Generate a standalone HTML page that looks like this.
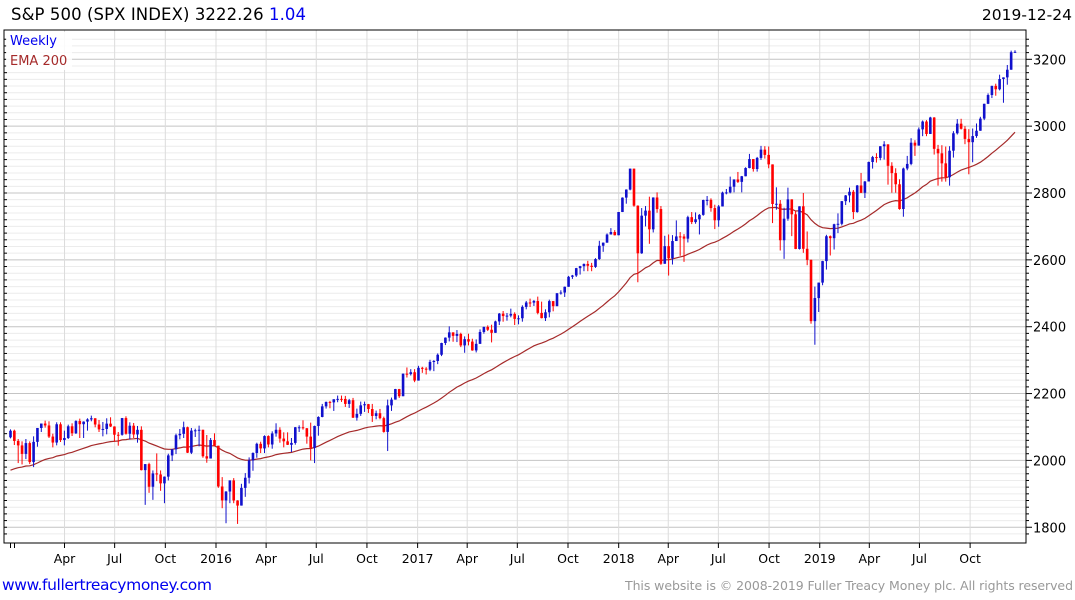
<!DOCTYPE html>
<html><head><meta charset="utf-8">
<style>
body{margin:0;background:#fff;width:1075px;height:600px;overflow:hidden;font-family:"DejaVu Sans",sans-serif}
svg{position:absolute;left:0;top:0}
</style></head><body>
<svg id="chart" width="1075" height="600" xmlns="http://www.w3.org/2000/svg" font-family="DejaVu Sans, sans-serif">
<g id="grid"></g>
<g id="ema"></g>
<g id="candles"></g>
<g id="axes"></g>
<text x="11" y="20" font-size="16.5" fill="#000" textLength="295">S&amp;P 500 (SPX INDEX) 3222.26 <tspan fill="#0000ee">1.04</tspan></text>
<text x="1072" y="20" font-size="15.5" text-anchor="end" fill="#000">2019-12-24</text>
<rect x="6" y="32" width="66" height="38" fill="#fff" opacity="0.85"/>
<text x="10" y="45" font-size="13" fill="#0000ee">Weekly</text>
<text x="10" y="65" font-size="13" fill="#a52a2a">EMA 200</text>
<text x="2" y="590" font-size="15.5" fill="#0000ee" textLength="210">www.fullertreacymoney.com</text>
<text x="625" y="590" font-size="12.5" fill="#999" textLength="448">This website is © 2008-2019 Fuller Treacy Money plc. All rights reserved</text>
</svg>
<script>
const closes=[2088.8,
2058.2,2044.8,2019.4,2051.8,1995.0,2055.5,2097.0,2110.3,2104.5,2071.3,2053.4,2108.1,2061.0,2067.0,2102.1,2081.2,2117.7,2108.3,2116.1,2122.7,2126.1,2107.4,2092.8,2094.1,2110.0,2101.5,2076.8,2076.6,2126.6,2079.7,2103.8,2077.6,2091.5,1970.9,1988.9,1921.2,1961.1,1958.0,1931.3,1951.4,2014.9,2033.1,2075.2,2079.4,2099.2,2023.0,2089.2,2090.1,2091.7,2012.4,2005.6,2061.0,2043.9,
1922.0,1880.3,1906.9,1940.2,1880.1,1864.8,1917.8,1948.1,2000.0,2022.2,2049.6,2035.9,2072.8,2047.6,2080.7,2091.6,2065.3,2057.1,2046.6,2052.3,2099.1,2099.1,2096.1,2071.2,2037.4,2103.0,2129.9,2161.7,2175.0,2173.6,2182.9,2184.1,2183.9,2169.0,2180.0,2127.8,2139.2,2164.7,2168.3,2153.7,2133.0,2141.2,2126.4,2085.2,2164.5,2181.9,2213.4,2192.0,2259.5,2258.1,2263.8,2238.8,
2277.0,2274.6,2271.3,2294.7,2297.4,2316.1,2351.2,2367.3,2383.1,2372.6,2378.3,2344.0,2362.7,2355.5,2329.0,2348.7,2384.2,2399.3,2390.9,2381.7,2415.8,2439.1,2431.8,2433.2,2438.3,2423.4,2425.2,2459.3,2472.5,2472.1,2476.8,2441.3,2425.6,2443.1,2476.6,2461.4,2500.2,2502.2,2519.4,2549.3,2553.2,2575.2,2581.1,2587.8,2582.3,2578.9,2602.4,2642.2,2651.5,2675.8,2683.3,2673.6,
2743.2,2786.2,2810.3,2872.9,2762.1,2619.6,2732.2,2747.3,2691.3,2786.6,2752.0,2588.3,2640.9,2604.5,2656.3,2670.1,2669.9,2663.4,2727.7,2713.0,2721.3,2734.6,2779.0,2779.4,2754.9,2718.4,2759.8,2801.3,2801.8,2818.8,2840.4,2833.3,2850.1,2874.7,2901.5,2871.7,2905.0,2929.7,2914.0,2885.6,2767.1,2767.8,2658.7,2723.1,2781.0,2736.3,2632.6,2760.2,2633.1,2600.0,2416.6,2485.7,
2531.9,2596.3,2670.7,2664.8,2706.5,2707.9,2775.6,2792.7,2803.7,2743.1,2822.5,2800.7,2834.4,2892.7,2907.4,2905.0,2939.9,2945.6,2881.4,2859.5,2826.1,2752.1,2873.3,2887.0,2950.5,2941.8,2990.4,3013.8,2976.6,3025.9,2932.1,2918.7,2888.7,2847.1,2926.5,2978.7,3007.4,2992.1,2961.8,2952.0,2970.3,2986.2,3022.6,3066.9,3093.1,3120.5,3110.3,3141.0,3145.9,3168.8,3221.2,3222.3];
const highs=[2093,
2092,2064,2057,2064,2057,2072,2097,2110,2119,2117,2080,2114,2114,2089,2107,2111,2120,2125,2117,2126,2134,2126,2121,2115,2126,2129,2102,2085,2127,2132,2114,2112,2103,2102,1989,1993,1970,2021,1970,1952,2020,2034,2080,2094,2116,2101,2097,2095,2104,2090,2076,2067,2081,
2039,1950,1908,1940,1947,1881,1930,1962,2009,2024,2053,2056,2075,2075,2087,2111,2099,2084,2084,2067,2100,2105,2120,2097,2113,2104,2132,2169,2176,2178,2183,2194,2194,2193,2184,2187,2155,2176,2176,2169,2169,2149,2154,2131,2182,2188,2214,2214,2260,2278,2273,2273,
2283,2280,2279,2301,2300,2320,2352,2368,2401,2382,2390,2382,2371,2379,2364,2362,2392,2400,2404,2406,2418,2441,2447,2441,2454,2443,2434,2464,2477,2484,2480,2490,2475,2452,2481,2475,2500,2509,2520,2552,2555,2576,2582,2589,2597,2591,2605,2657,2652,2679,2695,2689,
2743,2787,2811,2873,2871,2763,2755,2761,2789,2787,2802,2761,2672,2676,2674,2718,2683,2677,2732,2743,2742,2737,2780,2791,2784,2765,2764,2804,2812,2849,2841,2863,2851,2877,2917,2898,2908,2941,2940,2939,2880,2817,2779,2756,2816,2781,2746,2760,2800,2685,2601,2520,
2532,2597,2675,2673,2708,2739,2776,2794,2816,2809,2824,2860,2836,2894,2911,2919,2940,2955,2931,2892,2874,2841,2876,2911,2964,2958,2996,3017,3018,3028,3027,2944,2943,2939,2940,2985,3021,3022,3000,2991,2993,3008,3028,3067,3098,3121,3127,3154,3146,3183,3226,3227];
const lows=[2066,
2046,1992,1988,2004,1989,1980,2041,2085,2098,2067,2039,2045,2055,2045,2064,2073,2079,2067,2067,2089,2117,2099,2085,2072,2078,2100,2056,2044,2074,2077,2063,2067,2053,1970,1867,1903,1882,1938,1909,1872,1940,1998,2019,2063,2067,2022,2019,2070,2042,2008,1993,2006,2043,
1918,1857,1812,1872,1872,1810,1865,1891,1931,1969,2008,2022,2022,2039,2035,2071,2053,2039,2046,2025,2047,2085,2092,2050,2000,1992,2074,2129,2155,2156,2148,2174,2175,2160,2157,2127,2119,2133,2145,2142,2115,2123,2123,2083,2028,2148,2183,2187,2192,2248,2254,2234,
2245,2262,2257,2267,2267,2288,2312,2345,2356,2355,2354,2339,2322,2344,2328,2323,2349,2379,2387,2353,2382,2405,2415,2418,2428,2405,2407,2415,2452,2459,2462,2437,2425,2417,2428,2446,2474,2496,2489,2520,2543,2549,2556,2566,2566,2566,2576,2600,2624,2651,2676,2673,
2682,2743,2768,2808,2759,2533,2618,2700,2648,2682,2741,2585,2594,2553,2586,2663,2612,2594,2652,2707,2708,2676,2732,2763,2744,2692,2699,2765,2796,2799,2802,2830,2802,2850,2874,2864,2864,2899,2903,2874,2710,2750,2628,2603,2717,2671,2632,2631,2621,2584,2409,2346,
2444,2524,2571,2613,2631,2680,2703,2764,2772,2722,2741,2800,2785,2849,2873,2891,2898,2900,2825,2801,2801,2750,2729,2868,2883,2911,2952,2970,2970,2977,2915,2822,2834,2834,2822,2906,2975,2990,2946,2856,2892,2965,2992,3018,3066,3084,3091,3107,3070,3124,3184,3220];
const firstOpen=2069;
const yTickValues=[1800,2000,2200,2400,2600,2800,3000,3200];
const xTickLabels=["Apr","Jul","Oct","2016","Apr","Jul","Oct","2017","Apr","Jul","Oct","2018","Apr","Jul","Oct","2019","Apr","Jul","Oct"];
const xTickDates=["2015-04-01","2015-07-01","2015-10-01","2016-01-01","2016-04-01","2016-07-01","2016-10-01","2017-01-01","2017-04-01","2017-07-01","2017-10-01","2018-01-01","2018-04-01","2018-07-01","2018-10-01","2019-01-01","2019-04-01","2019-07-01","2019-10-01"];
const emaStart=1965, emaPeriod=42;

const NS="http://www.w3.org/2000/svg";
const L=4,R=1026,T=30,B=543;
function y(v){return 59.3+(3200-v)*0.33425;}
const n=closes.length;
function xi(i){return 10.5+i*(1015-10.5)/(n-1);}
const d0=Date.parse("2016-01-01");
function xd(s){return 216+(Date.parse(s)-d0)/86400000*(201.2/365.25);}
function mk(tag,attrs,parent){const e=document.createElementNS(NS,tag);for(const k in attrs)e.setAttribute(k,attrs[k]);parent.appendChild(e);return e;}
const grid=document.getElementById('grid'),axes=document.getElementById('axes'),cg=document.getElementById('candles'),eg=document.getElementById('ema');
for(let v=1780;v<=3260;v+=20){const yy=y(v);if(yy<T||yy>B)continue;
 const major=v%200===0;
 const ln=mk('line',{x1:L,x2:R,y1:yy,y2:yy,stroke:major?'#c4c4c4':'#ececec','stroke-width':1},grid);
 
 
 const t1=mk('line',{x1:R,x2:R+(major?6:3),y1:yy,y2:yy,stroke:'#000'},axes);
 
 
 const t2=mk('line',{x1:L,x2:L+3,y1:yy,y2:yy,stroke:'#000'},axes);
 
 
}
yTickValues.forEach(v=>{const t=mk('text',{x:1033,y:y(v)+5,'font-size':13,fill:'#000'},axes);t.textContent=v;
 
 });
xTickDates.forEach((s,k)=>{const xx=xd(s);
 const g=mk('line',{x1:xx,x2:xx,y1:T,y2:B,stroke:'#dcdcdc'},grid);
 
 
 const tk=mk('line',{x1:xx,x2:xx,y1:B,y2:B+5,stroke:'#000'},axes);
 
 
 const t=mk('text',{x:xx,y:563,'font-size':12.5,'text-anchor':'middle',fill:'#000'},axes);t.textContent=xTickLabels[k];
 
 });
[10.5,14.5].forEach(xx=>{const tk=mk('line',{x1:xx,x2:xx,y1:B,y2:B+5,stroke:'#000'},axes);
 
 });
const fr=mk('rect',{x:L,y:T,width:R-L,height:B-T,fill:'none',stroke:'#000','stroke-width':1},axes);


const a=2/(emaPeriod+1);let e=emaStart;const pts=[];
for(let i=0;i<n;i++){e=e+a*(closes[i]-e);pts.push(xi(i).toFixed(1)+','+y(e).toFixed(1));}
const pl=mk('polyline',{points:pts.join(' '),fill:'none',stroke:'#a52a2a','stroke-width':1.2},eg);


for(let i=0;i<n;i++){
 const o=i===0?firstOpen:closes[i-1],c=closes[i];
 const up=c>=o,col=up?'#1010cc':'#ff0000',xx=xi(i);
 const w=mk('line',{x1:xx,x2:xx,y1:y(Math.max(highs[i],o,c)),y2:y(Math.min(lows[i],o,c)),stroke:col,'stroke-width':1},cg);
 
 
 const top=y(Math.max(o,c)),h=Math.max(1,y(Math.min(o,c))-top);
 const r=mk('rect',{x:xx-1.3,y:top,width:2.6,height:h,fill:col},cg);
 
 
}
</script>
</body></html>
